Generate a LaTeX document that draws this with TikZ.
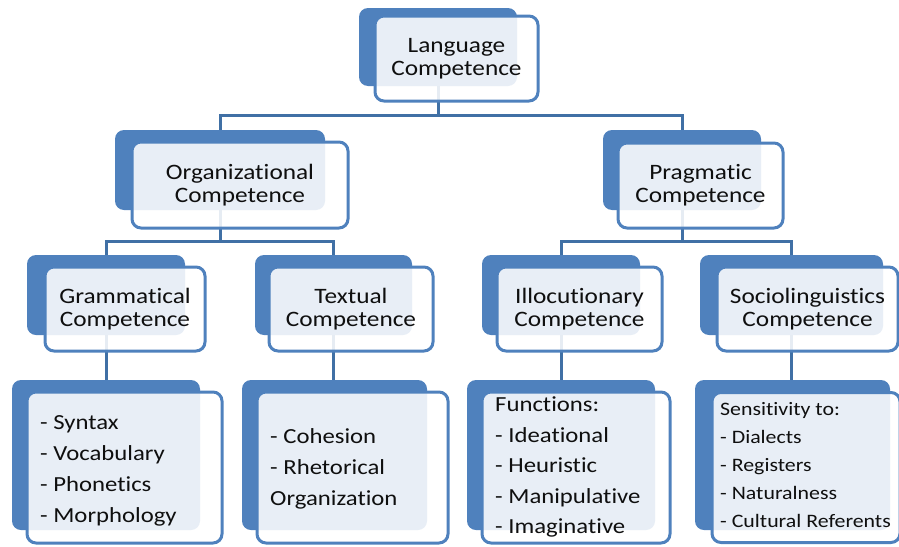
\documentclass[tikz,border=0pt]{standalone}
\usepackage{fontspec}
\setmainfont{Carlito}[FakeStretch=1.15, Ligatures=NoCommon]
\usetikzlibrary{backgrounds}
\definecolor{boxblue}{RGB}{79,129,189}
\definecolor{connblue}{RGB}{64,112,165}
\definecolor{txt}{RGB}{15,15,15}
\tikzset{
  backbox/.style={fill=boxblue, draw=none, rounded corners=9pt, inner sep=0pt, outer sep=0pt},
  frontbox/.style={draw=boxblue, line width=3pt, fill=white, fill opacity=0.87, text opacity=1,
    rounded corners=9pt, inner sep=0pt, outer sep=0pt},
  conn/.style={draw=connblue, line width=3pt},
  head/.style={font=\fontsize{22}{23}\selectfont, align=center, text=txt},
  listtext/.style={font=\fontsize{21.5}{31}\selectfont, align=left, anchor=north west, inner sep=0pt, text=txt},
  smalllist/.style={font=\fontsize{19}{28}\selectfont, align=left, anchor=north west, inner sep=0pt, text=txt}
}
\begin{document}
\begin{tikzpicture}[x=1pt,y=-1pt]
\useasboundingbox (0,0) rectangle (899,546);
% level 1
\node[backbox, minimum width=158pt, minimum height=78pt] (lang-b) at (438,47) {};
\node[frontbox, head, minimum width=163pt, minimum height=85pt] (lang) at (456.5,58.5) {Language\\Competence};
% level 2
\node[backbox, minimum width=210pt, minimum height=80pt] (org-b) at (220,170) {};
\node[frontbox, head, minimum width=216pt, minimum height=86pt] (org) at (240,185) {Organizational\\Competence};
\node[backbox, minimum width=158pt, minimum height=80pt] (prag-b) at (682,170) {};
\node[frontbox, head, minimum width=165pt, minimum height=85pt] (prag) at (700.5,185.5) {Pragmatic\\Competence};
% level 3
\node[backbox, minimum width=158pt, minimum height=80pt] (gram-b) at (106,295) {};
\node[frontbox, head, minimum width=160pt, minimum height=84pt] (gram) at (125,309) {Grammatical\\Competence};
\node[backbox, minimum width=157pt, minimum height=80pt] (text-b) at (333.5,295) {};
\node[frontbox, head, minimum width=164pt, minimum height=84pt] (text) at (351,309) {Textual\\Competence};
\node[backbox, minimum width=158pt, minimum height=80pt] (illo-b) at (561,295) {};
\node[frontbox, head, minimum width=165pt, minimum height=84pt] (illo) at (579.5,309) {Illocutionary\\Competence};
\node[backbox, minimum width=183pt, minimum height=80pt] (socio-b) at (791.5,295) {};
\node[frontbox, head, minimum width=181pt, minimum height=84pt] (socio) at (807.5,309) {Sociolinguistics\\Competence};
% level 4
\node[backbox, minimum width=188pt, minimum height=150pt] (graml-b) at (106,455) {};
\node[frontbox, minimum width=195pt, minimum height=151pt] (graml) at (124.5,467.5) {};
\node[listtext] (graml-t) at (40,415) {- Syntax\\- Vocabulary\\- Phonetics\\- Morphology};
\node[backbox, minimum width=185pt, minimum height=150pt] (textl-b) at (334.5,455) {};
\node[frontbox, minimum width=191pt, minimum height=151pt] (textl) at (352.5,467.5) {};
\node[listtext] (textl-t) at (270,428) {- Cohesion\\- Rhetorical\\Organization};
\node[backbox, minimum width=188pt, minimum height=150pt] (func-b) at (561,455) {};
\node[frontbox, minimum width=188pt, minimum height=151pt] (func) at (576,467.5) {};
\node[listtext, font=\fontsize{21.5}{30.5}\selectfont] (func-t) at (495,397) {Functions:\\- Ideational\\- Heuristic\\- Manipulative\\- Imaginative};
\node[backbox, minimum width=195pt, minimum height=150pt] (sens-b) at (792.5,455) {};
\node[frontbox, minimum width=188pt, minimum height=150pt] (sens) at (806,467.5) {};
\node[smalllist] (sens-t) at (720,402) {Sensitivity to:\\- Dialects\\- Registers\\- Naturalness\\- Cultural Referents};
% connectors
\begin{scope}[on background layer]
\coordinate (j1) at (438,115);
\coordinate (j2) at (220,241);
\coordinate (j3) at (682,241);
\draw[conn] (lang-b.south) -- (j1);
\draw[conn] (org-b.north) |- (j1) -| (prag-b.north);
\draw[conn] (org-b.south) -- (j2);
\draw[conn] (gram-b.north) |- (j2) -| (text-b.north);
\draw[conn] (prag-b.south) -- (j3);
\draw[conn] (illo-b.north) |- (j3) -| (socio-b.north);
\draw[conn] (gram-b.south) -- (graml-b.north);
\draw[conn] (text-b.south) -- (text-b.south |- textl-b.north);
\draw[conn] (illo-b.south) -- (func-b.north);
\draw[conn] (socio-b.south) -- (socio-b.south |- sens-b.north);
\end{scope}
\end{tikzpicture}
\end{document}
